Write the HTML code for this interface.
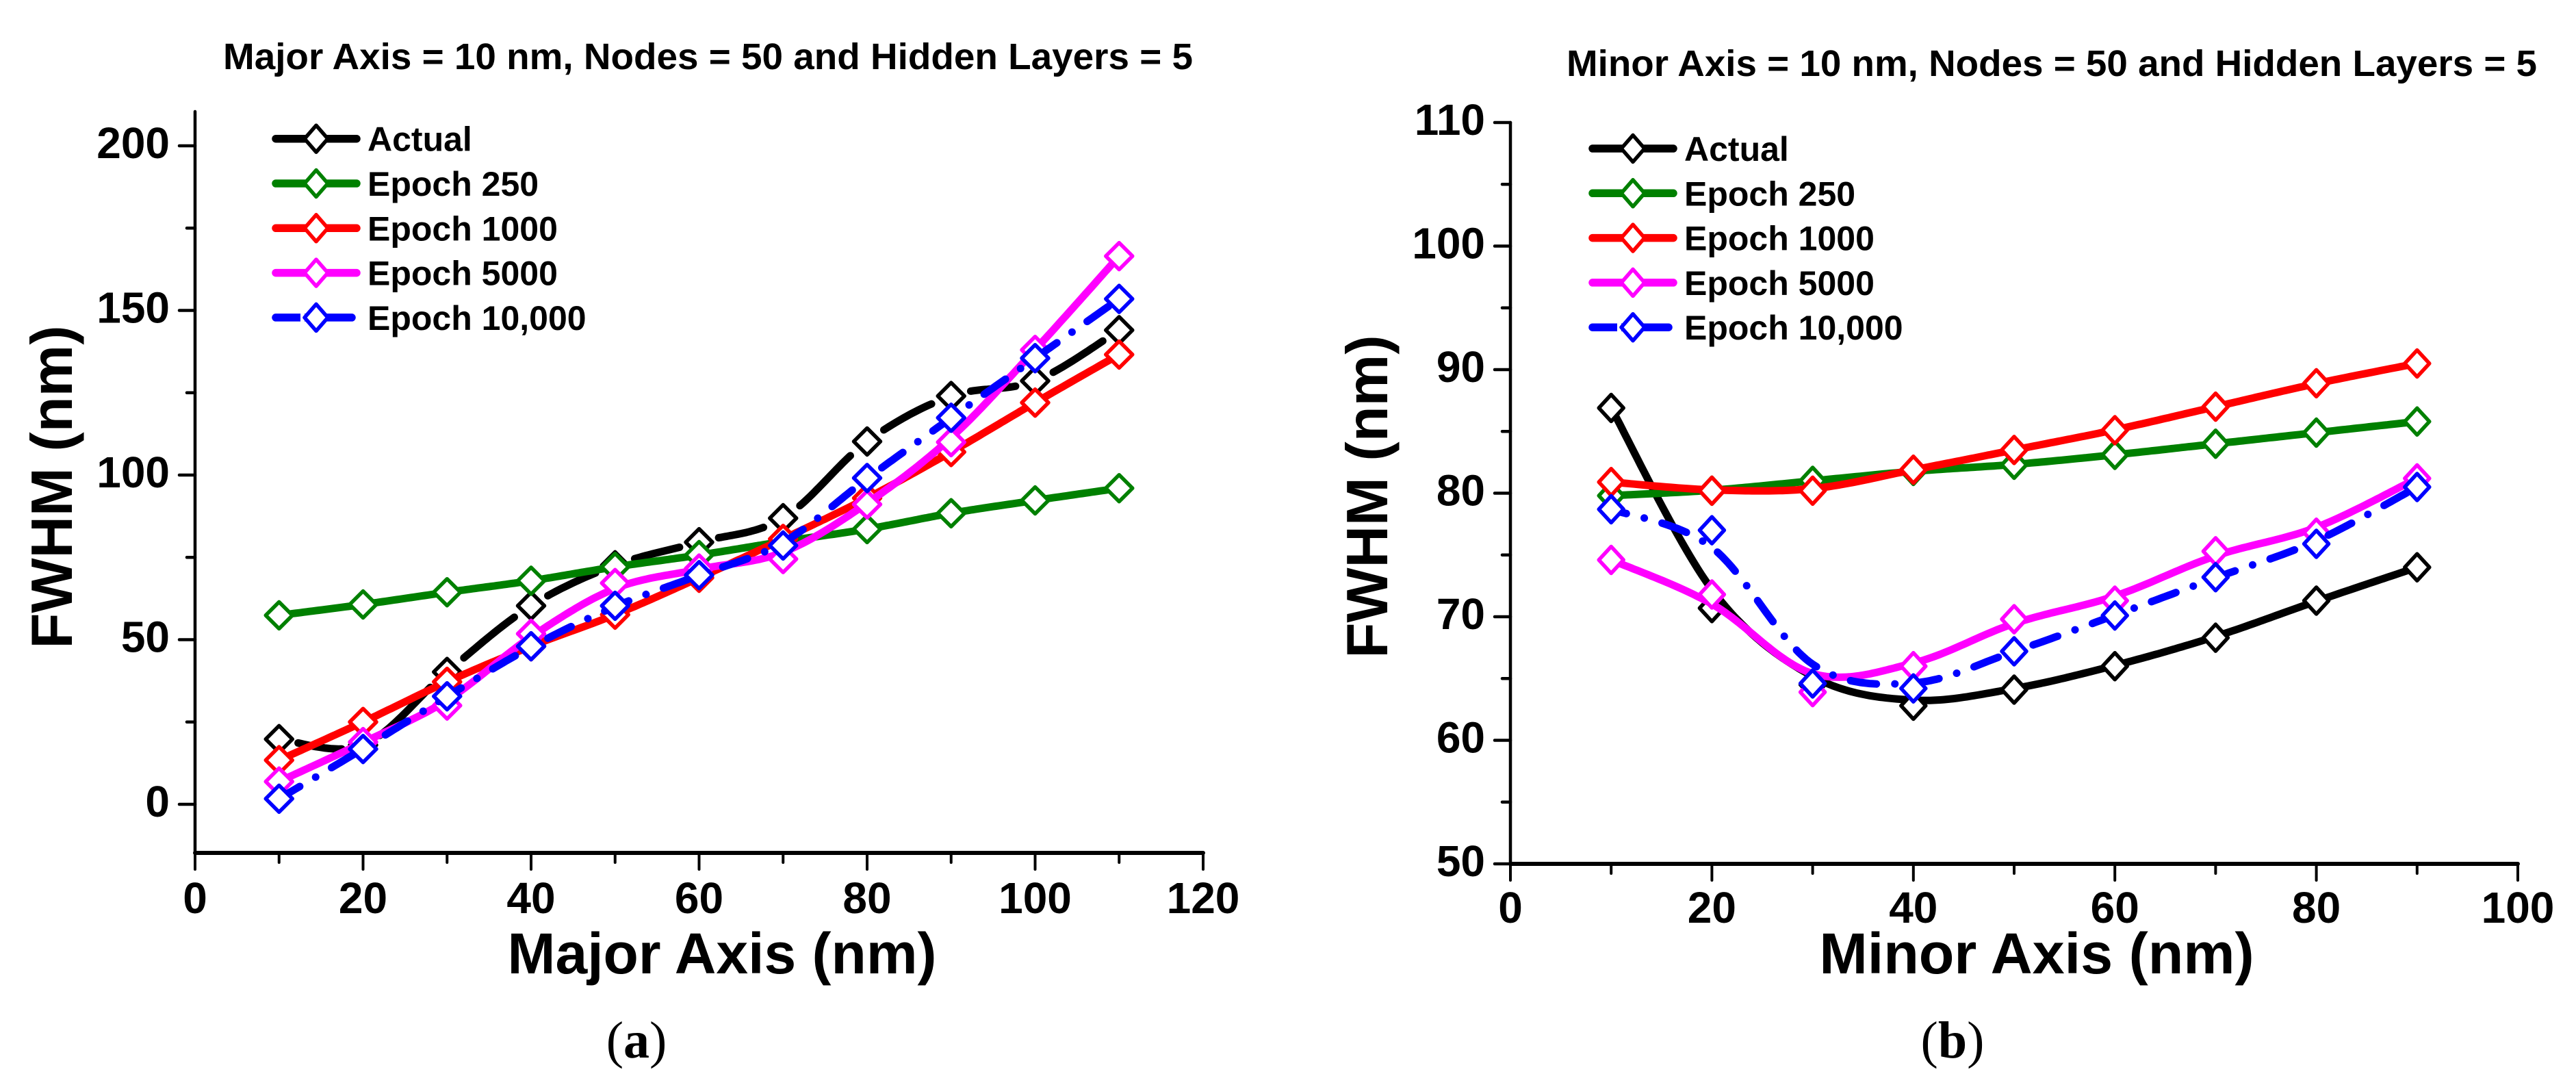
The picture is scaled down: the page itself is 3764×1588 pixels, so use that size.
<!DOCTYPE html>
<html>
<head>
<meta charset="utf-8">
<title>FWHM vs axis length</title>
<style>
html,body{margin:0;padding:0;background:#fff;}
svg{display:block;}
text{font-family:"Liberation Sans",Arial,sans-serif;font-weight:700;fill:#000;}
.cap{font-family:"Liberation Serif","Times New Roman",serif;font-weight:400;font-size:76px;}
.cap tspan{font-weight:700;}
</style>
</head>
<body>
<svg id="fig" xmlns="http://www.w3.org/2000/svg" width="3764" height="1588" viewBox="0 0 3764 1588">
  <rect width="3764" height="1588" fill="#fff"/>
  <g id="panel-a">
    <text x="326" y="101" font-size="54" textLength="1417" lengthAdjust="spacingAndGlyphs">Major Axis = 10 nm, Nodes = 50 and Hidden Layers = 5</text>
    <text x="1055" y="1422" font-size="84" text-anchor="middle">Major Axis (nm)</text>
    <text transform="translate(105 711.5) rotate(-90)" font-size="85" text-anchor="middle">FWHM (nm)</text>
    <text class="cap" x="930" y="1545" text-anchor="middle">(<tspan>a</tspan>)</text>
  </g>
  <g id="panel-b">
    <text x="2289" y="111" font-size="54" textLength="1418" lengthAdjust="spacingAndGlyphs">Minor Axis = 10 nm, Nodes = 50 and Hidden Layers = 5</text>
    <text x="2976" y="1422" font-size="84.5" text-anchor="middle">Minor Axis (nm)</text>
    <text transform="translate(2027 725.5) rotate(-90)" font-size="85" text-anchor="middle">FWHM (nm)</text>
    <text class="cap" x="2853" y="1545" text-anchor="middle">(<tspan>b</tspan>)</text>
  </g>
</svg>
<script>
// ---------- data: panel (a) ----------
const majorAxisNm = [10,20,30,40,50,60,70,80,90,100,110];
const aActual   = [19.8,18,40.2,60.3,72.6,79.6,86.9,110.2,124,128.6,144];
const aEpoch250 = [57.4,60.7,64.4,67.9,72.1,75.7,79.8,83.6,88.4,92.3,96];
const aEpoch1000= [13.4,25,37.2,48,57.6,68.8,80.6,93,107,122,136.6];
const aEpoch5000= [6.9,18.9,30,51.8,67.2,71.6,74.5,91.1,110,138,166.5];
const aEpoch10k = [1.7,16.8,32.8,48,60.3,69.6,78.6,99.1,117.4,135.5,153.5];
const aXTicks = [0,20,40,60,80,100,120];
const aYTicks = [0,50,100,150,200];
const aYMinor = [25,75,125,175];
const aXMinor = [10,30,50,70,90,110];

// ---------- data: panel (b) ----------
const minorAxisNm = [10,20,30,40,50,60,70,80,90];
const bActual   = [86.9,70.7,64.5,62.8,64.1,66,68.3,71.3,74];
const bEpoch250 = [79.8,80.2,81,81.8,82.3,83.1,84,84.9,85.8];
const bEpoch1000= [80.9,80.2,80.2,81.9,83.5,85.1,87,88.9,90.5];
const bEpoch5000= [74.6,71.8,63.9,66,69.8,71.3,75.3,76.8,81.2];
const bEpoch10k = [78.7,77,64.6,64.2,67.2,70.1,73.2,75.9,80.5];
const bXTicks = [0,20,40,60,80,100];
const bYTicks = [50,60,70,80,90,100,110];
const bYMinor = [55,65,75,85,95,105];
const bXMinor = [10,30,50,70,90];

// ---------- legend ----------
const seriesNames = ['Actual','Epoch 250','Epoch 1000','Epoch 5000','Epoch 10,000'];
const seriesKeys = ['actual','epoch-250','epoch-1000','epoch-5000','epoch-10000'];
const seriesColors = ['#000000','#008000','#ff0000','#ff00ff','#0000ff'];

const NS = 'http://www.w3.org/2000/svg';
function mk(tag, parent, attrs){
  const el = document.createElementNS(NS, tag);
  for (const k in attrs) el.setAttribute(k, attrs[k]);
  parent.appendChild(el);
  return el;
}
function linear(d0, d1, r0, r1){
  return v => r0 + (v - d0) * (r1 - r0) / (d1 - d0);
}
function tickLine(parent, x1, y1, x2, y2, w, name){
  const el = mk('line', parent, {x1:x1, y1:y1, x2:x2, y2:y2, stroke:'#000', 'stroke-width':w, 'stroke-linecap':'round'});
  
  
  return el;
}
function smoothed(vals, a){
  return vals.map((v,i) => (i === 0 || i === vals.length-1) ? v : v + a*(vals[i-1] + vals[i+1] - 2*v));
}
// Catmull-Rom sampling through pixel points
function sampleCurve(pts){
  const out = [];
  for (let i = 0; i < pts.length-1; i++){
    const p0 = pts[Math.max(i-1,0)], p1 = pts[i], p2 = pts[i+1], p3 = pts[Math.min(i+2,pts.length-1)];
    for (let s = 0; s < 30; s++){
      const t = s/30, t2 = t*t, t3 = t2*t;
      out.push([
        0.5*(2*p1[0] + (p2[0]-p0[0])*t + (2*p0[0]-5*p1[0]+4*p2[0]-p3[0])*t2 + (3*p1[0]-p0[0]-3*p2[0]+p3[0])*t3),
        0.5*(2*p1[1] + (p2[1]-p0[1])*t + (2*p0[1]-5*p1[1]+4*p2[1]-p3[1])*t2 + (3*p1[1]-p0[1]-3*p2[1]+p3[1])*t3)
      ]);
    }
  }
  out.push(pts[pts.length-1]);
  return out;
}
function curvePath(pts, markerPts, gap){
  const samples = sampleCurve(pts);
  let d = '', pen = false;
  samples.forEach(s => {
    const hidden = gap > 0 && markerPts.some(m => Math.hypot(m[0]-s[0], m[1]-s[1]) < gap);
    if (hidden){ pen = false; return; }
    d += (pen ? 'L' : 'M') + s[0].toFixed(1) + ' ' + s[1].toFixed(1);
    pen = true;
  });
  return d;
}
function diamond(parent, cx, cy, hw, hh, color, name){
  const el = mk('polygon', parent, {
    points: [cx,cy-hh, cx+hw,cy, cx,cy+hh, cx-hw,cy].join(' '),
    fill:'#fff', stroke:color, 'stroke-width':5.5, 'stroke-linejoin':'round'
  });
  
  
  return el;
}

function drawChart(cfg){
  const root = document.getElementById(cfg.id);
  const sx = cfg.sx, sy = cfg.sy;

  // axes
  tickLine(root, cfg.axisX, cfg.axisTop, cfg.axisX, cfg.axisY, 4.5, cfg.key + '-y-axis-line');
  tickLine(root, cfg.axisX, cfg.axisY, cfg.axisRight, cfg.axisY, 6, cfg.key + '-x-axis-line');

  cfg.xTicks.forEach(v => {
    tickLine(root, sx(v), cfg.axisY, sx(v), cfg.axisY + 24, 4, cfg.key + '-x-tick');
    const t = mk('text', root, {x:sx(v), y:cfg.xLabelY, 'font-size':64, 'text-anchor':'middle'});
    t.textContent = v;
    
    
  });
  cfg.xMinor.forEach(v => {
    tickLine(root, sx(v), cfg.axisY, sx(v), cfg.axisY + 14, 4, cfg.key + '-x-minor-tick');
  });
  cfg.yTicks.forEach(v => {
    tickLine(root, cfg.axisX - 23, sy(v), cfg.axisX, sy(v), 4.5, cfg.key + '-y-tick');
    const t = mk('text', root, {x:cfg.axisX - 37, y:sy(v) + 18, 'font-size':64, 'text-anchor':'end'});
    t.textContent = v;
    
    
  });
  cfg.yMinor.forEach(v => {
    tickLine(root, cfg.axisX - 12, sy(v), cfg.axisX, sy(v), 4.5, cfg.key + '-y-minor-tick');
  });

  // series
  cfg.series.forEach((vals, i) => {
    const color = seriesColors[i];
    const g = mk('g', root, {});
    
    
    const markerPts = vals.map((v, k) => [sx(cfg.xs[k]), sy(v)]);
    const linePts = smoothed(vals, cfg.smooth[i]).map((v, k) => [sx(cfg.xs[k]), sy(v)]);
    const attrs = {d:curvePath(linePts, markerPts, cfg.gaps[i]), fill:'none', stroke:color, 'stroke-width':11, 'stroke-linecap':'round', 'stroke-linejoin':'round'};
    if (i === 4){
      attrs['stroke-dasharray'] = '38 27 0.1 27';
      attrs['stroke-dashoffset'] = cfg.dashOffset;
    }
    const line = mk('path', g, attrs);
    
    
    markerPts.forEach(p => {
      diamond(g, p[0], p[1], cfg.markerW, 19.5, color, cfg.key + '-point-' + seriesKeys[i]);
    });
  });

  // legend
  const lg = mk('g', root, {});
  
  
  seriesNames.forEach((name, i) => {
    const y = cfg.legendY + i * 65.3, x = cfg.legendX, color = seriesColors[i];
    const e = mk('g', lg, {});
    
    
    const lineEnd = i === 4 ? x + 117 : x + 124;
    const l1 = mk('line', e, {x1:x + 6, y1:y, x2:lineEnd, y2:y, stroke:color, 'stroke-width':11.5, 'stroke-linecap':'round'});
    
    
    if (i === 4){
      const cut = mk('line', e, {x1:x + 42, y1:y, x2:x + 48, y2:y, stroke:'#fff', 'stroke-width':14});
      
      
    }
    diamond(e, x + 65, y, 17, 19.5, color, cfg.key + '-legend-marker');
    const t = mk('text', e, {x:x + 140, y:y + 18, 'font-size':50});
    t.textContent = name;
    
    
  });
}

drawChart({
  id:'panel-a', key:'panel-a',
  sx:linear(0,120,285,1758), sy:linear(0,200,1175,213),
  axisX:285, axisTop:163, axisY:1246, axisRight:1758, xLabelY:1334,
  xs:majorAxisNm, series:[aActual,aEpoch250,aEpoch1000,aEpoch5000,aEpoch10k],
  smooth:[0,0,0,0.15,0.08], gaps:[28,0,0,0,0], dashOffset:3,
  xTicks:aXTicks, xMinor:aXMinor, yTicks:aYTicks, yMinor:aYMinor,
  markerW:19.5, legendX:397, legendY:202.7
});
drawChart({
  id:'panel-b', key:'panel-b',
  sx:linear(0,100,2207,3679), sy:linear(50,110,1262,179),
  axisX:2207, axisTop:179, axisY:1262, axisRight:3679, xLabelY:1348,
  xs:minorAxisNm, series:[bActual,bEpoch250,bEpoch1000,bEpoch5000,bEpoch10k],
  smooth:[0.15,0.1,0.1,0.15,0.13], gaps:[0,0,0,0,0], dashOffset:15,
  xTicks:bXTicks, xMinor:bXMinor, yTicks:bYTicks, yMinor:bYMinor,
  markerW:18, legendX:2321, legendY:217
});
</script>
</body>
</html>
